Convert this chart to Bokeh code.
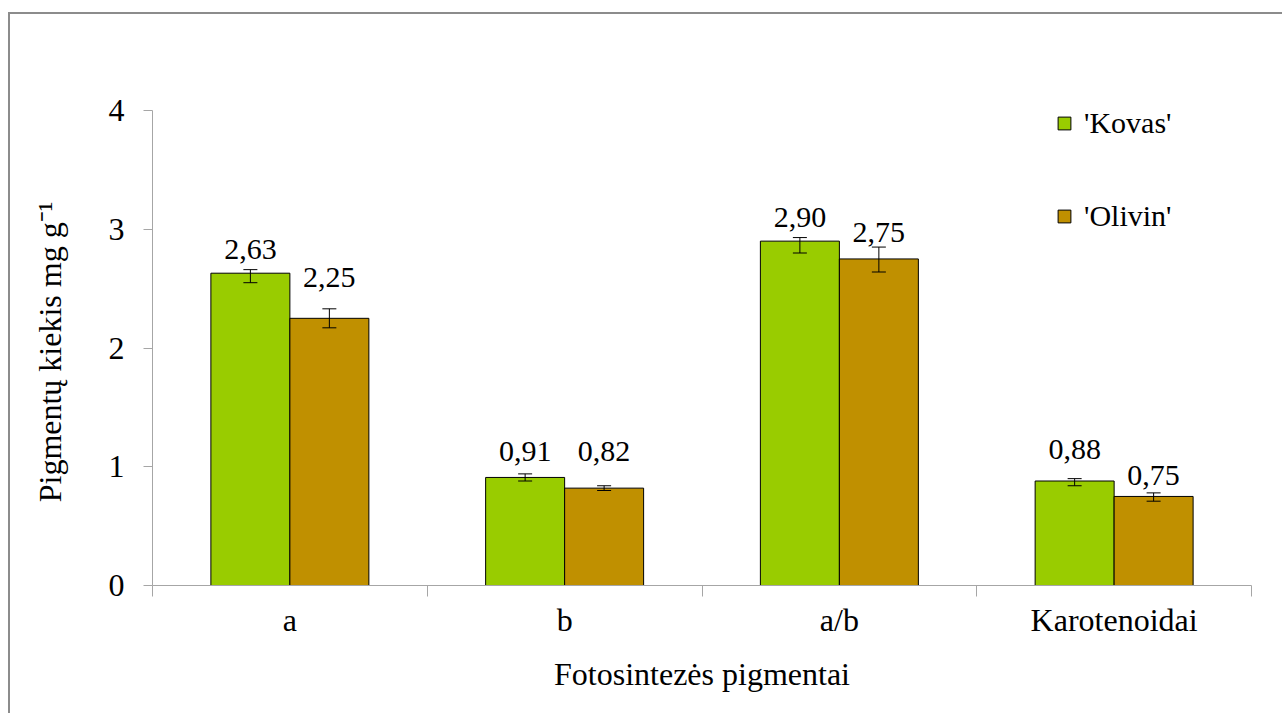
from bokeh.plotting import figure
from bokeh.models import (ColumnDataSource, FactorRange, Range1d, LinearAxis,
                          CategoricalAxis, FixedTicker, Whisker, TeeHead,
                          InlineStyleSheet)
from bokeh.core.properties import value
from bokeh.transform import dodge
from bokeh.embed import file_html
from bokeh.resources import INLINE

# ---------------- data ----------------
categories = ["a", "b", "a/b", "Karotenoidai"]
series = ["'Kovas'", "'Olivin'"]
kovas = [2.63, 0.91, 2.90, 0.88]
kovas_upper = [2.66, 0.94, 2.93, 0.90]
kovas_lower = [2.55, 0.88, 2.80, 0.84]
olivin = [2.25, 0.82, 2.75, 0.75]
olivin_upper = [2.33, 0.84, 2.85, 0.78]
olivin_lower = [2.17, 0.80, 2.64, 0.71]
y_ticks = [0, 1, 2, 3, 4]

# ---------------- style ----------------
FONT = "Liberation Serif"
GREEN = "#99CC00"
GOLD = "#C09000"
AXIS = "#A6A6A6"
FS_AX = "32px"
FS_LAB = "30px"
BAR_W = 0.2875
# label lift above bar top, in pixels (labels were placed by hand in the original)
lift_k = [24, 26, 24, 32]
lift_o = [41, 37, 26, 21]


def fmt(v):
    return f"{v:.2f}".replace(".", ",")


src = ColumnDataSource(dict(
    cat=categories,
    kovas=kovas, olivin=olivin,
    ku=kovas_upper, kl=kovas_lower,
    ou=olivin_upper, ol=olivin_lower,
    klab=[fmt(v) for v in kovas], olab=[fmt(v) for v in olivin],
    kdy=[-d for d in lift_k], ody=[-d for d in lift_o],
))

p = figure(x_range=FactorRange(factors=categories), y_range=Range1d(0, 4),
           width=1282, height=713, output_backend="svg", toolbar_location=None,
           x_axis_location=None, y_axis_location=None,
           min_border_left=152, min_border_right=31,
           min_border_top=110, min_border_bottom=128)
p.grid.visible = False
p.outline_line_color = None
p.background_fill_color = "white"
p.border_fill_color = None
# outer chart-area frame (left and top edges visible in the original)
p.styles = {
    "background": ("linear-gradient(#8C8C8C,#8C8C8C) 8px 12px / 100% 2px no-repeat,"
                   "linear-gradient(#8C8C8C,#8C8C8C) 8px 12px / 2px 100% no-repeat,"
                   "white"),
}
p.stylesheets = [InlineStyleSheet(
    css='text, tspan { font-family: "Liberation Serif", serif !important; }')]

# y axis
yaxis = LinearAxis(ticker=FixedTicker(ticks=y_ticks),
                   axis_label="Pigmentų kiekis  mg g⁻¹",
                   axis_line_color=AXIS, major_tick_line_color=AXIS,
                   major_tick_out=9, major_tick_in=0,
                   minor_tick_line_color=None,
                   major_label_text_font=FONT, major_label_text_font_size=FS_AX,
                   major_label_text_color="black",
                   major_label_standoff=19,
                   axis_label_text_font=FONT, axis_label_text_font_size=FS_AX,
                   axis_label_text_font_style="normal",
                   axis_label_text_color="black",
                   axis_label_standoff=38)
p.add_layout(yaxis, "left")

# x axis: tick marks at the category boundaries (synthetic coordinates 0..n)
edge_axis = LinearAxis(ticker=FixedTicker(ticks=list(range(len(categories) + 1))),
                       axis_line_color=AXIS, major_tick_line_color=AXIS,
                       major_tick_out=11, major_tick_in=0,
                       minor_tick_line_color=None,
                       major_label_text_font_size="0px",
                       major_label_text_alpha=0,
                       major_label_standoff=0)
p.add_layout(edge_axis, "below")

# category labels
cat_axis = CategoricalAxis(axis_line_color=None, major_tick_line_color=None,
                           major_tick_out=0, major_tick_in=0,
                           major_label_text_font=FONT, major_label_text_font_size=FS_AX,
                           major_label_text_color="black",
                           major_label_standoff=5,
                           axis_label="Fotosintezės pigmentai",
                           axis_label_text_font=FONT, axis_label_text_font_size=FS_AX,
                           axis_label_text_font_style="normal",
                           axis_label_text_color="black",
                           axis_label_standoff=15)
p.add_layout(cat_axis, "below")

# bars
xk = dodge("cat", -BAR_W / 2, range=p.x_range)
xo = dodge("cat", BAR_W / 2, range=p.x_range)
p.vbar(x=xk, top="kovas", width=BAR_W, source=src, fill_color=GREEN,
       line_color="black", line_width=1, legend_label=series[0])
p.vbar(x=xo, top="olivin", width=BAR_W, source=src, fill_color=GOLD,
       line_color="black", line_width=1, legend_label=series[1])

# error bars (drawn over the bars)
for base, up, lo in ((xk, "ku", "kl"), (xo, "ou", "ol")):
    w = Whisker(base=base, upper=up, lower=lo, source=src, level="overlay",
                line_color="black", line_width=1,
                upper_head=TeeHead(size=14, line_color="black", line_width=1),
                lower_head=TeeHead(size=14, line_color="black", line_width=1))
    p.add_layout(w)

# value labels (text glyphs)
for base, top, lab, dy in ((xk, "kovas", "klab", "kdy"), (xo, "olivin", "olab", "ody")):
    p.text(x=base, y=top, text=lab, y_offset=dy, source=src,
           text_font=value(FONT), text_font_size=value(FS_LAB),
           text_color="black", text_align="center", text_baseline="alphabetic")

# legend
lg = p.legend[0]
lg.location = (904, 352)
lg.orientation = "vertical"
lg.glyph_width = 16
lg.glyph_height = 16
lg.label_standoff = 12
lg.label_text_font = FONT
lg.label_text_font_size = FS_LAB
lg.label_text_font_style = "normal"
lg.label_text_color = "black"
lg.label_height = 16
lg.spacing = 59
lg.padding = 0
lg.margin = 0
lg.border_line_color = None
lg.background_fill_alpha = 0

open("out.html", "w").write(file_html(p, INLINE))
